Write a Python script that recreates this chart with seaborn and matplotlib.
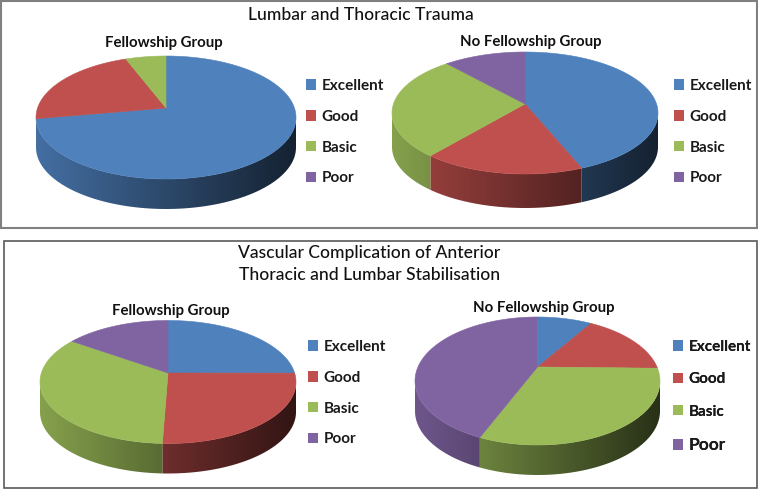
import numpy as np
import matplotlib
matplotlib.use('Agg')
import matplotlib.pyplot as plt
from matplotlib.patches import Patch, Polygon, Rectangle
import seaborn as sns

# Chart data
categories = ['Excellent', 'Good', 'Basic', 'Poor']
lumbar_fellowship = [74.7, 20.3, 5.0, 0.0]
lumbar_no_fellowship = [43.0, 19.6, 27.4, 10.0]
vascular_fellowship = [22.7, 28.0, 35.8, 13.5]
vascular_no_fellowship = [7.2, 14.6, 36.0, 42.2]
title_top = 'Lumbar and Thoracic Trauma'
title_bottom = 'Vascular Complication of Anterior\nThoracic and Lumbar Stabilisation'
group_with = 'Fellowship Group'
group_without = 'No Fellowship Group'

colors = sns.color_palette(['#4f81bd', '#c0504d', '#9bbb59', '#8064a2'])

sns.set_theme(style='white')
plt.rcParams['font.family'] = ['Lato', 'DejaVu Sans']

fig = plt.figure(figsize=(7.58, 4.90), dpi=100)
ax = fig.add_axes([0, 0, 1, 1])
ax.set_xlim(0, 758)
ax.set_ylim(490, 0)
ax.set_autoscale_on(False)
ax.axis('off')


def rim(cx, cy, a, b, theta):
    # theta runs clockwise from 12 o'clock
    return np.column_stack([cx + a * np.sin(theta), cy - b * np.cos(theta)])


def draw_pie(values, cx, cy, a, b, apex_y, depth):
    fractions = np.array(values) / np.sum(values)
    edges = np.concatenate([[0], np.cumsum(fractions)]) * 2 * np.pi

    # side wall first, each slice has a left-to-right shading
    for i, color in enumerate(colors):
        lo = max(edges[i], np.pi / 2)
        hi = min(edges[i + 1], 3 * np.pi / 2)
        if hi <= lo:
            continue
        theta = np.linspace(lo, hi, 80)
        arc = rim(cx, cy, a, b, theta)
        side = np.vstack([arc, (arc + [0, depth])[::-1]])
        t = np.linspace(0, 1, 256)
        shade = 0.86 - 0.60 * t
        grad = np.outer(shade, np.array(color))[np.newaxis, :, :]
        im = ax.imshow(grad, extent=(cx - a, cx + a, cy + b + depth, cy - b),
                       aspect='auto', zorder=2)
        im.set_clip_path(Polygon(side, transform=ax.transData))

    # top face
    for i, color in enumerate(colors):
        if edges[i + 1] <= edges[i]:
            continue
        theta = np.linspace(edges[i], edges[i + 1], 200)
        pts = np.vstack([[cx, apex_y], rim(cx, cy, a, b, theta)])
        ax.fill(pts[:, 0], pts[:, 1], color=color, lw=0.4, zorder=3)


def draw_legend(x, y, spacing, fontsize=11):
    handles = [Patch(facecolor=c, edgecolor='none') for c in colors]
    leg = ax.legend(handles, categories, loc='upper left', bbox_to_anchor=(x, y),
                    bbox_transform=ax.transData, frameon=False, borderpad=0,
                    borderaxespad=0, handlelength=0.66, handleheight=0.66,
                    handletextpad=0.36, labelspacing=spacing,
                    prop={'size': fontsize, 'weight': 'bold'})
    for text in leg.get_texts():
        text.set_color('#1a1a1a')
    ax.add_artist(leg)
    return leg


# panel frames
ax.add_patch(Rectangle((0.5, 1), 756.5, 227, fill=False, ec='#808080', lw=1.5))
ax.add_patch(Rectangle((3.5, 241), 753.5, 247, fill=False, ec='#5a5a5a', lw=1.2))

# pies
draw_pie(lumbar_fellowship, 166, 117.5, 130, 61.5, 108, 30)
draw_pie(lumbar_no_fellowship, 525, 113, 133, 61, 104, 34)
draw_pie(vascular_fellowship, 168, 382, 128, 61.5, 373, 30)
draw_pie(vascular_no_fellowship, 537.5, 381, 122.5, 64, 367, 30)

# legends
draw_legend(306, 79, 1.10)
draw_legend(674, 79, 1.10)
draw_legend(308, 340, 1.10)
leg4 = draw_legend(673, 340, 1.20)
leg4.get_texts()[3].set_fontsize(12.5)

# titles
ax.text(361, 15, title_top, ha='center', va='center', fontsize=12.6,
        fontweight='medium', color='#111111')
ax.text(369.5, 264, title_bottom, ha='center', va='center', fontsize=12.6,
        fontweight='medium', color='#111111', linespacing=1.4)
for x, y, label in [(164, 43, group_with), (531, 42, group_without),
                    (171, 311, group_with), (544, 308, group_without)]:
    ax.text(x, y, label, ha='center', va='center', fontsize=10.8,
            fontweight='bold', color='#111111')

fig.savefig('out.png', dpi=100)
